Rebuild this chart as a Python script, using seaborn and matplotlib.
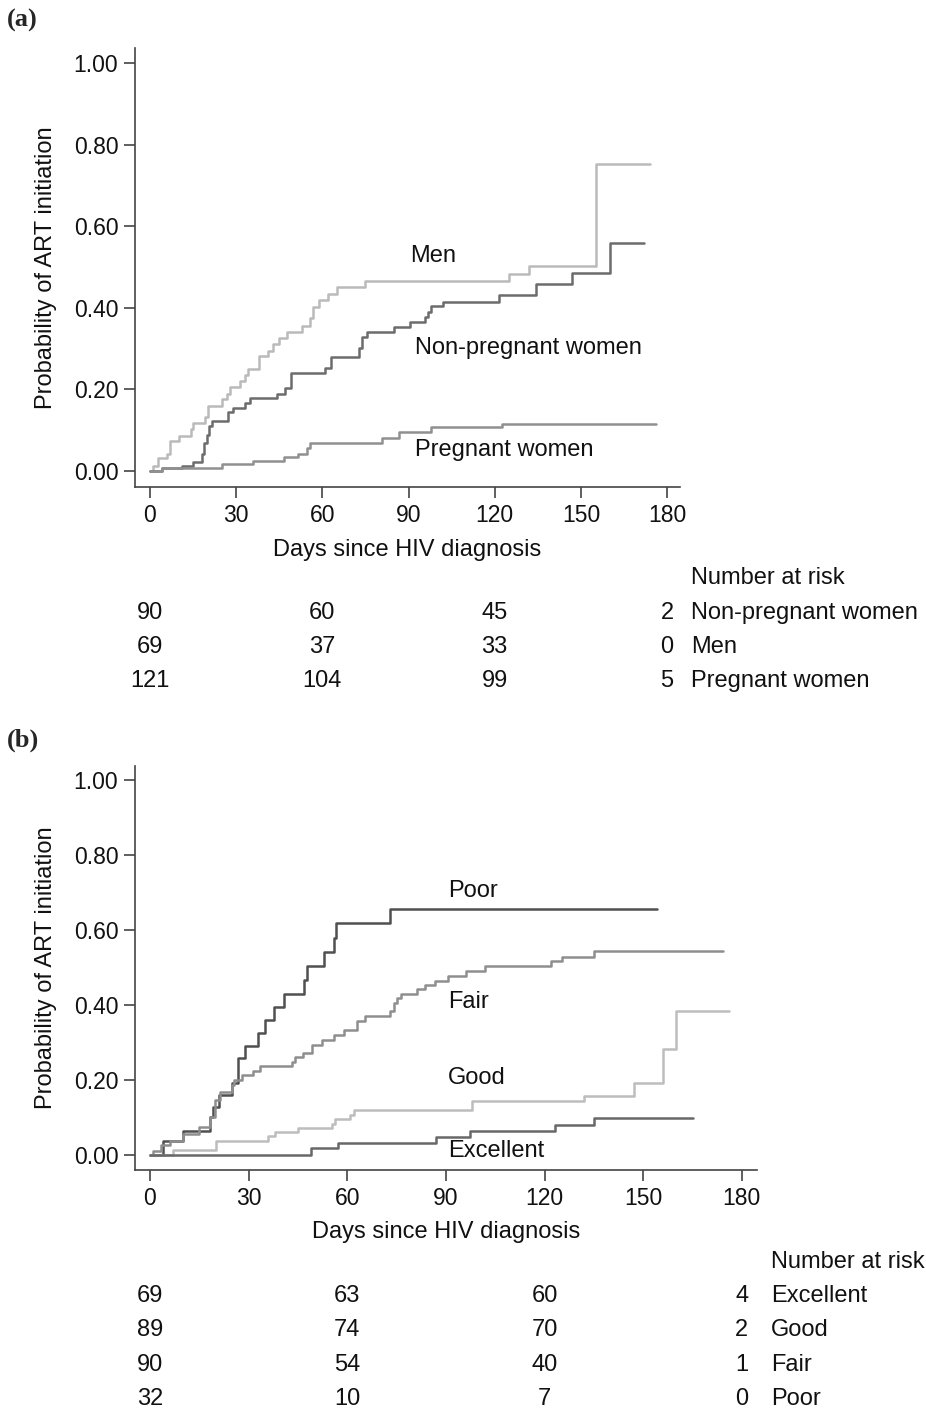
import numpy as np
import pandas as pd
import matplotlib
matplotlib.use("Agg")
import matplotlib.pyplot as plt
import matplotlib.transforms as mtransforms
import seaborn as sns

# ---------------- data: panel (a) ----------------
men_t = [0, 0.9, 2.9, 5.8, 7, 10.1, 14.2, 15.1, 19.1, 20.1, 25, 26.7, 27.8, 31.3, 33, 34, 38, 41,
         42.9, 45, 47.8, 53, 55.7, 56.9, 59, 62, 65, 75, 124.9, 132, 155.3, 174]
men_p = [0, 0.013, 0.031, 0.043, 0.074, 0.087, 0.103, 0.117, 0.133, 0.16, 0.176, 0.19, 0.207, 0.222,
         0.235, 0.249, 0.282, 0.295, 0.311, 0.325, 0.34, 0.356, 0.374, 0.403, 0.419, 0.434, 0.45,
         0.466, 0.484, 0.502, 0.752, 0.752]

npw_t = [0, 4.1, 11, 15.1, 18, 18.8, 19.7, 20.5, 21.5, 27, 29, 33, 34.8, 44.1, 47, 49, 60.9, 63,
         72.8, 73.9, 75.7, 85, 90.5, 95.7, 96.9, 97.7, 101.9, 121.6, 134.3, 147, 160, 172]
npw_p = [0, 0.008, 0.012, 0.023, 0.043, 0.068, 0.088, 0.11, 0.123, 0.145, 0.155, 0.166, 0.178, 0.19,
         0.203, 0.241, 0.252, 0.279, 0.301, 0.329, 0.341, 0.354, 0.366, 0.378, 0.39, 0.405, 0.415,
         0.431, 0.458, 0.486, 0.56, 0.56]

pw_t = [0, 4.1, 25, 36, 46.6, 51.6, 54.5, 55.7, 80.8, 86.8, 98, 122.4, 176]
pw_p = [0, 0.008, 0.017, 0.025, 0.035, 0.043, 0.056, 0.07, 0.08, 0.096, 0.107, 0.115, 0.115]

# ---------------- data: panel (b) ----------------
poor_t = [0, 4.1, 10.1, 18.2, 19.1, 21.1, 24.8, 26.9, 28.9, 32.9, 35, 37.7, 40.7, 46.8, 47.6, 52.9,
          55.9, 56.7, 73, 154.3]
poor_p = [0, 0.036, 0.065, 0.102, 0.129, 0.160, 0.192, 0.259, 0.291, 0.325, 0.361, 0.394, 0.428,
          0.466, 0.503, 0.541, 0.579, 0.618, 0.657, 0.657]

fair_t = [0, 0.8, 3.2, 6.1, 10.1, 15, 18.2, 19.8, 21.3, 24.8, 25.5, 27.9, 31.4, 33.6, 43.1, 44.1,
          46.6, 49.2, 52.2, 55.9, 59, 63, 65.4, 73, 74.3, 75, 76.2, 81.1, 83.6, 86.6, 90.7, 96.1,
          101.9, 122.1, 125.2, 135, 174.3]
fair_p = [0, 0.011, 0.027, 0.038, 0.055, 0.075, 0.102, 0.147, 0.169, 0.187, 0.2, 0.214, 0.223,
          0.236, 0.249, 0.261, 0.272, 0.294, 0.307, 0.321, 0.334, 0.356, 0.37, 0.383, 0.406, 0.419,
          0.43, 0.443, 0.452, 0.463, 0.477, 0.49, 0.503, 0.517, 0.529, 0.545, 0.545]

good_t = [0, 7.1, 20, 36, 38, 45.1, 55.2, 56.2, 60.8, 62, 98, 132, 147.2, 156, 160.1, 176.1]
good_p = [0, 0.013, 0.038, 0.051, 0.062, 0.071, 0.083, 0.095, 0.107, 0.12, 0.144, 0.158, 0.193,
          0.283, 0.385, 0.385]

exc_t = [0, 49.1, 57.2, 87, 97.3, 123.1, 135.1, 165.2]
exc_p = [0, 0.018, 0.033, 0.049, 0.065, 0.08, 0.098, 0.098]

# ---------------- number at risk ----------------
risk_days = [0, 60, 120, 180]
risk_a_groups = ["Non-pregnant women", "Men", "Pregnant women"]
risk_a = [[90, 60, 45, 2], [69, 37, 33, 0], [121, 104, 99, 5]]
risk_b_groups = ["Excellent", "Good", "Fair", "Poor"]
risk_b = [[69, 63, 60, 4], [89, 74, 70, 2], [90, 54, 40, 1], [32, 10, 7, 0]]

y_ticks = [0, 0.2, 0.4, 0.6, 0.8, 1.0]
y_ticklabels = ["0.00", "0.20", "0.40", "0.60", "0.80", "1.00"]
x_ticks = [0, 30, 60, 90, 120, 150, 180]

# ---------------- styling ----------------
sns.set_theme(style="ticks")
plt.rcParams["font.family"] = ["Liberation Sans", "DejaVu Sans"]
FS = 17
TFS = 16.5
SPINE = "#444444"
TXT = "#111111"

W, H = 926, 1411
fig = plt.figure(figsize=(W / 100, H / 100), dpi=100)


def fig_rect(left, top, right, bottom):
    return [left / W, 1 - bottom / H, (right - left) / W, (bottom - top) / H]


def make_df(series):
    rows = []
    for name, t, p in series:
        for ti, pi in zip(t, p):
            rows.append({"day": ti, "prob": pi, "group": name})
    return pd.DataFrame(rows)


def style_axes(ax, xlim, ylim, ylab_x, xlab_y):
    ax.set_xlim(*xlim)
    ax.set_ylim(*ylim)
    ax.set_xticks(x_ticks)
    ax.set_yticks(y_ticks)
    ax.set_yticklabels(y_ticklabels)
    for s in ["top", "right"]:
        ax.spines[s].set_visible(False)
    for s in ["left", "bottom"]:
        ax.spines[s].set_color(SPINE)
        ax.spines[s].set_linewidth(1.2)
    ax.tick_params(axis="both", length=8, width=1.2, color=SPINE, pad=4, labelsize=TFS,
                   labelcolor=TXT)
    ax.set_xlabel("Days since HIV diagnosis", fontsize=FS, color=TXT)
    ax.set_ylabel("Probability of ART initiation", fontsize=FS, color=TXT)
    ax.yaxis.set_label_coords(ylab_x, 0.5)
    ax.xaxis.set_label_coords(0.5, xlab_y)
    ax.grid(False)


# ---------------- panel (a) ----------------
ax1 = fig.add_axes(fig_rect(135, 48, 680, 487))
df_a = make_df([("Men", men_t, men_p), ("Non-pregnant women", npw_t, npw_p),
                ("Pregnant women", pw_t, pw_p)])
pal_a = {"Men": "#bababa", "Non-pregnant women": "#6c6c6c", "Pregnant women": "#909090"}
sns.lineplot(data=df_a, x="day", y="prob", hue="group", palette=pal_a, estimator=None,
             drawstyle="steps-post", linewidth=1.8, legend=False, ax=ax1)
style_axes(ax1, (-5.2, 184.5), (-0.039, 1.037), -0.143, -0.119)
ax1.text(90.5, 0.527, "Men", fontsize=FS, ha="left", va="center", color=TXT)
ax1.text(92.2, 0.301, "Non-pregnant women", fontsize=FS, ha="left", va="center", color=TXT)
ax1.text(92.2, 0.051, "Pregnant women", fontsize=FS, ha="left", va="center", color=TXT)

tr1 = mtransforms.blended_transform_factory(ax1.transData, fig.transFigure)
ax1.text(188.3, 1 - 578 / H, "Number at risk", transform=tr1, fontsize=FS, ha="left",
         va="center", color=TXT, clip_on=False)
for i, (g, row) in enumerate(zip(risk_a_groups, risk_a)):
    yy = 1 - (613 + 34.2 * i) / H
    for d, v in zip(risk_days, row):
        ax1.text(d, yy, str(v), transform=tr1, fontsize=FS, ha="center", va="center",
                 color=TXT, clip_on=False)
    ax1.text(188.3, yy, g, transform=tr1, fontsize=FS, ha="left", va="center",
             color=TXT, clip_on=False)

# ---------------- panel (b) ----------------
ax2 = fig.add_axes(fig_rect(135, 766, 757, 1170))
df_b = make_df([("Poor", poor_t, poor_p), ("Fair", fair_t, fair_p), ("Good", good_t, good_p),
                ("Excellent", exc_t, exc_p)])
pal_b = {"Poor": "#505050", "Fair": "#8e8e8e", "Good": "#bdbdbd", "Excellent": "#686868"}
sns.lineplot(data=df_b, x="day", y="prob", hue="group", palette=pal_b, estimator=None,
             drawstyle="steps-post", linewidth=1.8, legend=False, ax=ax2)
style_axes(ax2, (-4.56, 184.6), (-0.040, 1.037), -0.125, -0.127)
ax2.text(90.6, 0.703, "Poor", fontsize=FS, ha="left", va="center", color=TXT)
ax2.text(90.6, 0.409, "Fair", fontsize=FS, ha="left", va="center", color=TXT)
ax2.text(90.6, 0.206, "Good", fontsize=FS, ha="left", va="center", color=TXT)
ax2.text(90.6, 0.0115, "Excellent", fontsize=FS, ha="left", va="center", color=TXT)

tr2 = mtransforms.blended_transform_factory(ax2.transData, fig.transFigure)
ax2.text(188.8, 1 - 1262 / H, "Number at risk", transform=tr2, fontsize=FS, ha="left",
         va="center", color=TXT, clip_on=False)
for i, (g, row) in enumerate(zip(risk_b_groups, risk_b)):
    yy = 1 - (1296 + 34.3 * i) / H
    for d, v in zip(risk_days, row):
        ax2.text(d, yy, str(v), transform=tr2, fontsize=FS, ha="center", va="center",
                 color=TXT, clip_on=False)
    ax2.text(188.8, yy, g, transform=tr2, fontsize=FS, ha="left", va="center",
             color=TXT, clip_on=False)

# ---------------- panel letters ----------------
fig.text(7 / W, 1 - 9 / H, "(a)", fontsize=19, fontweight="bold", ha="left", va="top",
         family=["Liberation Serif", "DejaVu Serif"])
fig.text(7 / W, 1 - 729 / H, "(b)", fontsize=19, fontweight="bold", ha="left", va="top",
         family=["Liberation Serif", "DejaVu Serif"])

fig.savefig("out.png", dpi=100, facecolor="white")
